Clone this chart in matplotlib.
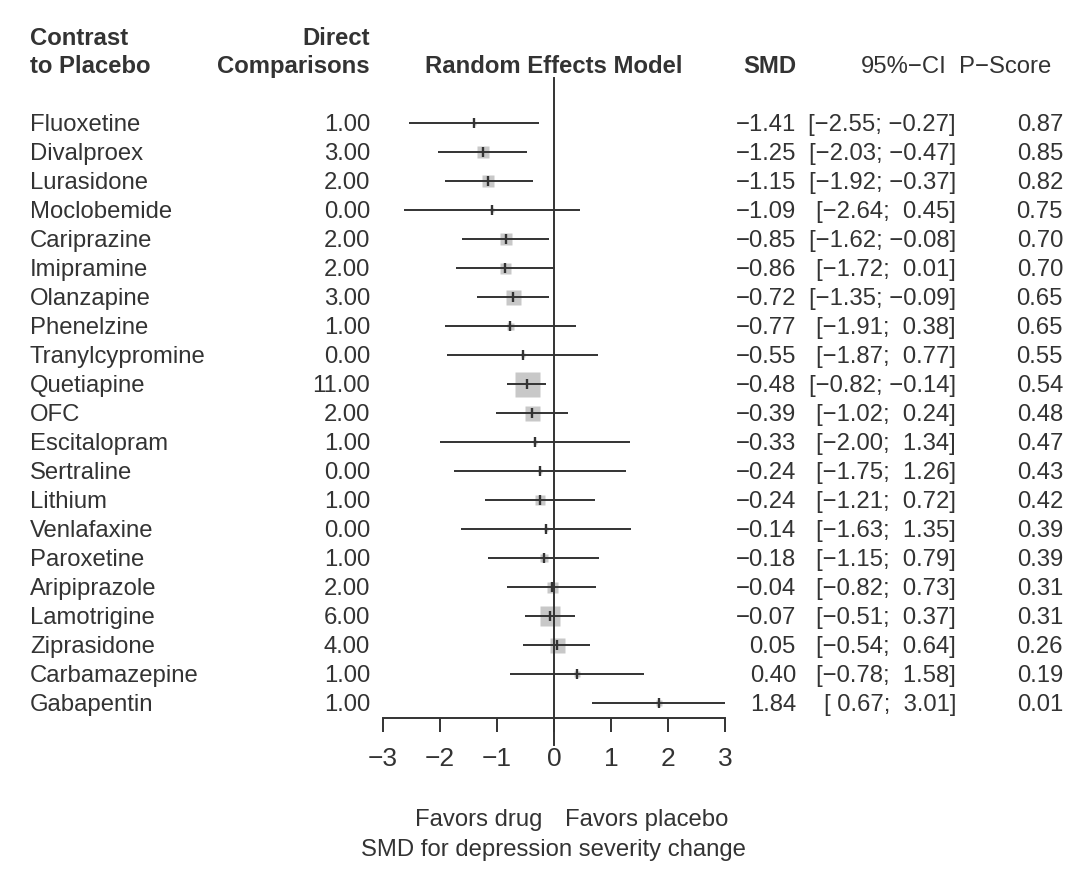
import matplotlib
matplotlib.use("Agg")
import matplotlib.pyplot as plt
from matplotlib.transforms import blended_transform_factory

# ---------------- data ----------------
drugs = ["Fluoxetine", "Divalproex", "Lurasidone", "Moclobemide", "Cariprazine",
         "Imipramine", "Olanzapine", "Phenelzine", "Tranylcypromine", "Quetiapine",
         "OFC", "Escitalopram", "Sertraline", "Lithium", "Venlafaxine", "Paroxetine",
         "Aripiprazole", "Lamotrigine", "Ziprasidone", "Carbamazepine", "Gabapentin"]
direct = [1, 3, 2, 0, 2, 2, 3, 1, 0, 11, 2, 1, 0, 1, 0, 1, 2, 6, 4, 1, 1]
smd = [-1.41, -1.25, -1.15, -1.09, -0.85, -0.86, -0.72, -0.77, -0.55, -0.48, -0.39,
       -0.33, -0.24, -0.24, -0.14, -0.18, -0.04, -0.07, 0.05, 0.40, 1.84]
ci_low = [-2.55, -2.03, -1.92, -2.64, -1.62, -1.72, -1.35, -1.91, -1.87, -0.82, -1.02,
          -2.00, -1.75, -1.21, -1.63, -1.15, -0.82, -0.51, -0.54, -0.78, 0.67]
ci_high = [-0.27, -0.47, -0.37, 0.45, -0.08, 0.01, -0.09, 0.38, 0.77, -0.14, 0.24,
           1.34, 1.26, 0.72, 1.35, 0.79, 0.73, 0.37, 0.64, 1.58, 3.01]
pscore = [0.87, 0.85, 0.82, 0.75, 0.70, 0.70, 0.65, 0.65, 0.55, 0.54, 0.48,
          0.47, 0.43, 0.42, 0.39, 0.39, 0.31, 0.31, 0.26, 0.19, 0.01]
# relative box size (weight), in pixels
box_px = [3, 12, 12, 4, 12, 11, 15, 7, 5, 25, 15, 4, 5, 10, 5, 8, 11, 20, 15, 6, 6]
xticks = [-3, -2, -1, 0, 1, 2, 3]

# ---------------- style ----------------
W, H = 1080, 872
FS = 17.2
TXT = "#333333"
LN = "#333333"
plt.rcParams["font.family"] = ["Liberation Sans", "DejaVu Sans"]
plt.rcParams["axes.unicode_minus"] = True

fig = plt.figure(figsize=(W / 100, H / 100), dpi=100)

row0, drow = 123.0, 29.0
ax_top, ax_bot = 78.0, 718.0
ax_left, ax_right = 383.0, 725.0
ax = fig.add_axes([ax_left / W, 1 - ax_bot / H, (ax_right - ax_left) / W, (ax_bot - ax_top) / H])
ax.set_xlim(-3, 3)
ax.set_ylim((ax_bot - row0) / drow, (ax_top - row0) / drow)
ax.patch.set_visible(False)
for s in ["top", "left", "right"]:
    ax.spines[s].set_visible(False)
ax.spines["bottom"].set_color(LN)
ax.spines["bottom"].set_linewidth(1.4)
ax.set_yticks([])
ax.set_xticks(xticks)
ax.set_xticklabels([f"{t}".replace("-", "\u2212") for t in xticks])
ax.tick_params(axis="x", direction="out", length=10, width=1.4, color=LN,
               labelsize=19, labelcolor=TXT, pad=11)

# reference line at 0 (extends slightly below axis)
ax.plot([0, 0], [(ax_top - row0) / drow, (745 - row0) / drow], color=LN, lw=1.4,
        clip_on=False, zorder=2)

ys = list(range(len(drugs)))
for i in ys:
    ax.plot(smd[i], i, marker="s", ms=box_px[i] * 0.72, color="#c8c8c8",
            mec="none", zorder=1)
    ax.plot([ci_low[i], ci_high[i]], [i, i], color=LN, lw=1.4, zorder=3,
            solid_capstyle="butt")
    ax.plot(smd[i], i, marker="|", ms=6.5, mew=1.7, color=LN, zorder=4)

# ---------------- text columns ----------------
tr = blended_transform_factory(fig.transFigure, ax.transData)
bl = 0.29  # baseline offset in row units


def fmt(v):
    s = f"{v:.2f}"
    if v < 0:
        s = "\u2212" + s[1:]
    return s


def pad(v):
    return fmt(v) if v < 0 else " " + fmt(v)


for i in ys:
    y = i + bl
    kw = dict(transform=tr, fontsize=FS, color=TXT, va="baseline")
    fig.text(30 / W, y, drugs[i], ha="left", **kw)
    fig.text(370 / W, y, f"{direct[i]:.2f}", ha="right", **kw)
    fig.text(796 / W, y, fmt(smd[i]), ha="right", **kw)
    fig.text(956 / W, y, f"[{pad(ci_low[i])}; {pad(ci_high[i])}]", ha="right", **kw)
    fig.text(1063 / W, y, f"{pscore[i]:.2f}", ha="right", **kw)


def ftxt(x, y, s, **k):
    fig.text(x / W, 1 - y / H, s, fontsize=FS, color=TXT, va="baseline", **k)


ftxt(30, 45, "Contrast", ha="left", fontweight="bold")
ftxt(30, 73, "to Placebo", ha="left", fontweight="bold")
ftxt(370, 45, "Direct", ha="right", fontweight="bold")
ftxt(370, 73, "Comparisons", ha="right", fontweight="bold")
ftxt(554, 73, "Random Effects Model", ha="center", fontweight="bold")
ftxt(796, 73, "SMD", ha="right", fontweight="bold")
ftxt(947, 73, "95%\u2212CI", ha="right")
ftxt(1051, 73, "P\u2212Score", ha="right")

ftxt(542, 826, "Favors drug", ha="right")
ftxt(565, 826, "Favors placebo", ha="left")
ftxt(553, 856, "SMD for depression severity change", ha="center")

fig.savefig("out.png", dpi=100, facecolor="white")
